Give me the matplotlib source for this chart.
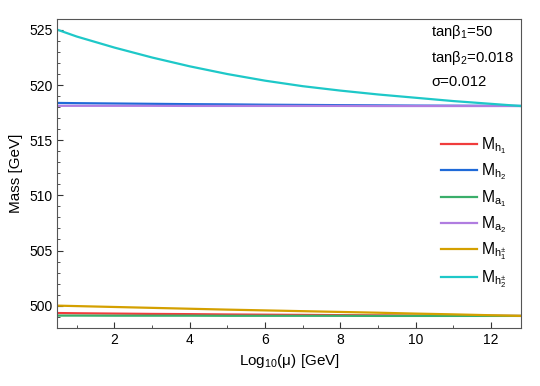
import matplotlib
matplotlib.use("Agg")
import matplotlib.pyplot as plt
from matplotlib.ticker import MultipleLocator

plt.rcParams['font.family'] = ['Liberation Sans', 'DejaVu Sans']
plt.rcParams['mathtext.fontset'] = 'custom'
plt.rcParams['mathtext.rm'] = 'Liberation Sans'
plt.rcParams['mathtext.it'] = 'Liberation Sans:italic'

# log10(mu) sample points
x = [0.5, 1, 2, 3, 4, 5, 6, 7, 8, 9, 10, 11, 12, 12.8]

m_h1 = [499.33, 499.31, 499.28, 499.25, 499.23, 499.2, 499.18, 499.16, 499.14, 499.12, 499.1, 499.09, 499.08, 499.07]
m_h2 = [518.38, 518.36, 518.33, 518.3, 518.27, 518.25, 518.22, 518.2, 518.18, 518.16, 518.14, 518.13, 518.12, 518.11]
m_a1 = [499.1, 499.1, 499.09, 499.09, 499.09, 499.08, 499.08, 499.08, 499.08, 499.07, 499.07, 499.07, 499.07, 499.07]
m_a2 = [518.12, 518.12, 518.12, 518.12, 518.11, 518.11, 518.11, 518.11, 518.11, 518.1, 518.1, 518.1, 518.1, 518.1]
m_hc1 = [500.0, 499.96, 499.88, 499.8, 499.72, 499.64, 499.57, 499.5, 499.43, 499.36, 499.28, 499.21, 499.13, 499.07]
m_hc2 = [525.0, 524.4, 523.4, 522.5, 521.7, 521.0, 520.4, 519.9, 519.5, 519.15, 518.85, 518.55, 518.3, 518.1]

labels = [r'$\mathrm{M_{h_1}}$', r'$\mathrm{M_{h_2}}$', r'$\mathrm{M_{a_1}}$',
          r'$\mathrm{M_{a_2}}$', r'$\mathrm{M_{h_1^{\pm}}}$', r'$\mathrm{M_{h_2^{\pm}}}$']
colors = ['#f03c3c', '#1f6ad8', '#3aae6a', '#b07de0', '#d4a000', '#1ec8c8']

fig, ax = plt.subplots(figsize=(5.4, 3.86), dpi=100)
fig.subplots_adjust(left=0.106, right=0.965, top=0.951, bottom=0.151)

for y, lab, c in zip([m_h1, m_h2, m_a1, m_a2, m_hc1, m_hc2], labels, colors):
    ax.plot(x, y, color=c, lw=1.6, label=lab)

ax.set_xlim(0.48, 12.8)
ax.set_ylim(498, 526)
ax.xaxis.set_major_locator(MultipleLocator(2))
ax.xaxis.set_minor_locator(MultipleLocator(1))
ax.yaxis.set_major_locator(MultipleLocator(5))
ax.yaxis.set_minor_locator(MultipleLocator(1))
ax.tick_params(which='both', direction='in', colors='#333333', labelcolor='black', labelsize=10)
ax.tick_params(which='major', length=4)
ax.tick_params(which='minor', length=2)
for s in ax.spines.values():
    s.set_color('#555555')

ax.set_xlabel(r'Log$_{10}$(μ) [GeV]', fontsize=11)
ax.set_ylabel('Mass [GeV]', fontsize=11)

ax.text(0.806, 0.958, r'tanβ$_1$=50', transform=ax.transAxes, fontsize=10.7, va='center')
ax.text(0.806, 0.874, r'tanβ$_2$=0.018', transform=ax.transAxes, fontsize=10.7, va='center')
ax.text(0.806, 0.796, 'σ=0.012', transform=ax.transAxes, fontsize=10.7, va='center')

ax.legend(loc='upper left', bbox_to_anchor=(0.828, 0.622), frameon=False, fontsize=11.3,
          handlelength=2.3, labelspacing=0.36, handletextpad=0.25,
          borderpad=0, borderaxespad=0)

fig.savefig('out.png', dpi=100)
